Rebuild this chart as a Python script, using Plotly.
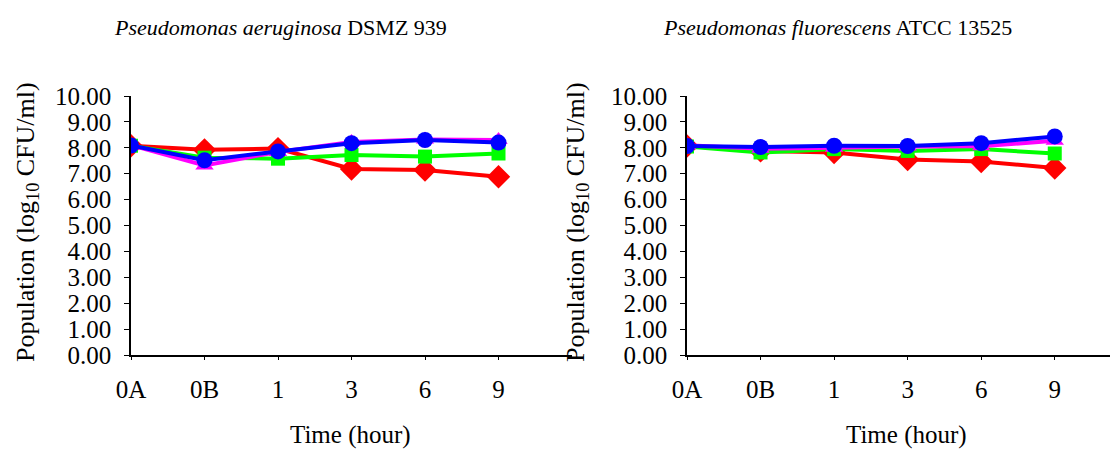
import plotly.graph_objects as go

times = ['0A', '0B', '1', '3', '6', '9']
y_ticks = [0, 1, 2, 3, 4, 5, 6, 7, 8, 9, 10]

# Pseudomonas aeruginosa DSMZ 939
aer_red = [8.08, 7.92, 7.97, 7.18, 7.14, 6.88]
aer_green = [8.08, 7.62, 7.58, 7.72, 7.66, 7.78]
aer_magenta = [8.10, 7.32, 7.84, 8.22, 8.32, 8.30]
aer_blue = [8.09, 7.52, 7.86, 8.18, 8.30, 8.20]

# Pseudomonas fluorescens ATCC 13525
flu_red = [8.07, 7.88, 7.82, 7.55, 7.47, 7.22]
flu_green = [8.05, 7.82, 7.95, 7.88, 7.95, 7.78]
flu_magenta = [8.10, 7.96, 8.00, 8.05, 8.06, 8.27]
flu_blue = [8.07, 8.03, 8.08, 8.07, 8.18, 8.44]

# the page puts the figure 8px in from the top-left corner
W, H = 1110, 444
OFF = 8
FONT = 'Times New Roman'

series = [
    ('#FF0000', 'diamond', 18),
    ('#00FF00', 'square', 14),
    ('#FF00FF', 'triangle-up', 16),
    ('#0000FF', 'circle', 16),
]

fig = go.Figure()

for col, data in [(1, [aer_red, aer_green, aer_magenta, aer_blue]),
                  (2, [flu_red, flu_green, flu_magenta, flu_blue])]:
    for (color, symbol, size), vals in zip(series, data):
        fig.add_trace(go.Scatter(
            x=times, y=vals, mode='lines+markers',
            xaxis='x' if col == 1 else 'x2',
            yaxis='y' if col == 1 else 'y2',
            line=dict(color=color, width=4),
            marker=dict(color=color, symbol=symbol, size=size, line=dict(width=0)),
            showlegend=False,
        ))


def px_x(x):
    return (x - OFF) / W


def px_y(y):
    return (H - (y - OFF)) / H


ydom = [px_y(355), px_y(96)]

xaxis_style = dict(
    type='category', range=[0, 6], showline=True, linecolor='black', linewidth=1.5,
    ticks='outside', ticklen=3, tickcolor='black', showgrid=False, zeroline=False,
    tickfont=dict(family=FONT, size=25, color='black'), ticklabelstandoff=8,
    automargin=False,
)
yaxis_style = dict(
    range=[0, 10], tickvals=y_ticks, tickformat='.2f', showline=True, linecolor='black',
    linewidth=1.5, ticks='outside', ticklen=5, tickcolor='black', showgrid=False,
    zeroline=False, tickfont=dict(family=FONT, size=25, color='black'),
    ticklabelstandoff=8, domain=ydom, automargin=False,
)

fig.update_layout(
    width=W, height=H,
    margin=dict(l=0, r=0, t=0, b=0),
    paper_bgcolor='white', plot_bgcolor='white',
    xaxis=dict(xaxis_style, domain=[px_x(131), px_x(572)], anchor='y'),
    yaxis=dict(yaxis_style, anchor='x'),
    xaxis2=dict(xaxis_style, domain=[px_x(687), 1.0], range=[0, 5.86], anchor='y2'),
    yaxis2=dict(yaxis_style, anchor='x2'),
)

titles = [
    ('<i>Pseudomonas aeruginosa</i> DSMZ 939', 280),
    ('<i>Pseudomonas fluorescens</i> ATCC 13525', 837),
]
for text, xc in titles:
    fig.add_annotation(text=text, x=px_x(xc), y=px_y(28), xref='paper', yref='paper',
                       showarrow=False, xanchor='center', yanchor='middle',
                       font=dict(family=FONT, size=22, color='black'))

for xc in [350, 906]:
    fig.add_annotation(text='Time (hour)', x=px_x(xc), y=px_y(435), xref='paper',
                       yref='paper', showarrow=False, xanchor='center', yanchor='middle',
                       font=dict(family=FONT, size=25, color='black'))

for xc in [27, 577]:
    fig.add_annotation(text='Population (log<sub>10</sub> CFU/ml)', x=px_x(xc), y=px_y(222),
                       xref='paper', yref='paper', showarrow=False, textangle=-90,
                       xanchor='center', yanchor='middle',
                       font=dict(family=FONT, size=26, color='black'))

fig.write_html('out.html')
